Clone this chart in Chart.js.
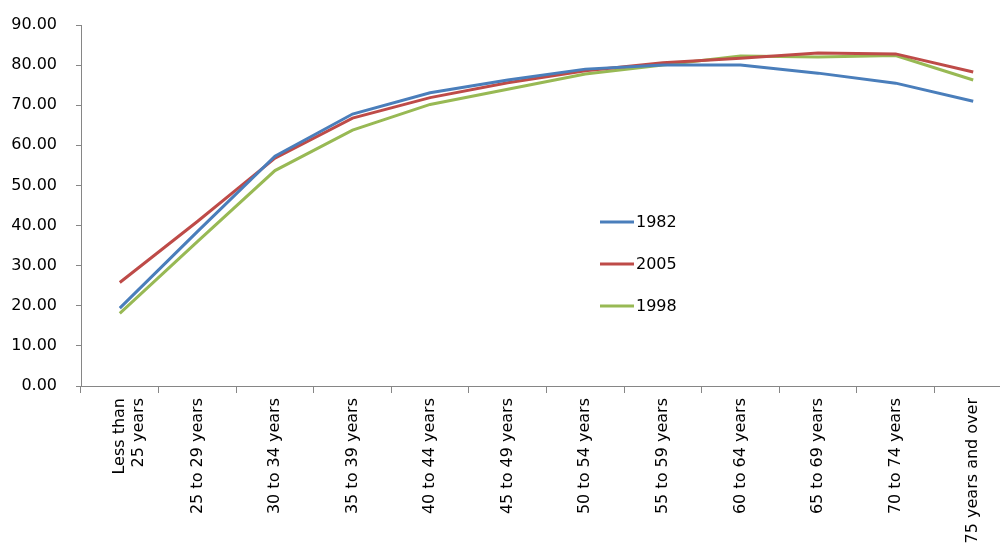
<!DOCTYPE html>
<html>
<head>
<meta charset="utf-8">
<script src="https://cdn.jsdelivr.net/npm/chart.js@4/dist/chart.umd.min.js"></script>
<style>
  html, body { margin: 0; padding: 0; background: #fff; overflow: hidden; width: 1000px; height: 547px; }
  #wrap { width: 1012px; height: 547px; }
</style>
</head>
<body>
<div id="wrap"><canvas id="c" width="1012" height="547"></canvas></div>
<script>
const categories = [["Less than", "25 years"], "25 to 29 years", "30 to 34 years", "35 to 39 years",
  "40 to 44 years", "45 to 49 years", "50 to 54 years", "55 to 59 years",
  "60 to 64 years", "65 to 69 years", "70 to 74 years", "75 years and over"];
const series1982 = [19.4, 38.5, 57.3, 67.8, 73.1, 76.3, 79.0, 80.0, 80.0, 78.0, 75.5, 71.0];
const series2005 = [25.8, 41.0, 56.8, 66.8, 71.9, 75.6, 78.6, 80.6, 81.7, 83.0, 82.8, 78.3];
const series1998 = [18.1, 36.0, 53.7, 63.8, 70.2, 74.0, 77.8, 80.0, 82.3, 82.0, 82.4, 76.3];
const yTicks = { min: 0, max: 90, step: 10 };

const colors = { c1982: "#4A7EBB", c2005: "#BE4B48", c1998: "#98B954" };
const fontFamily = "'DejaVu Sans', sans-serif";

const legendPlugin = {
  id: "insideLegend",
  afterDraw(chart) {
    const ctx = chart.ctx;
    const items = chart.data.datasets;
    const x0 = 600, y0 = 222, gap = 42;
    ctx.save();
    ctx.font = "16px " + fontFamily;
    ctx.textBaseline = "middle";
    ctx.textAlign = "left";
    items.forEach((ds, i) => {
      const y = y0 + i * gap;
      ctx.strokeStyle = ds.borderColor;
      ctx.lineWidth = 3;
      ctx.beginPath();
      ctx.moveTo(x0, y);
      ctx.lineTo(x0 + 34, y);
      ctx.stroke();
      ctx.fillStyle = "#000";
      ctx.fillText(ds.label, x0 + 36, y + 1);
    });
    ctx.restore();
  }
};

new Chart(document.getElementById("c"), {
  type: "line",
  data: {
    labels: categories,
    datasets: [
      { label: "1982", data: series1982, borderColor: colors.c1982, backgroundColor: colors.c1982 },
      { label: "2005", data: series2005, borderColor: colors.c2005, backgroundColor: colors.c2005 },
      { label: "1998", data: series1998, borderColor: colors.c1998, backgroundColor: colors.c1998 }
    ]
  },
  options: {
    responsive: false,
    animation: false,
    devicePixelRatio: 1,
    layout: { padding: { top: 25, right: 0, left: 0, bottom: 0 } },
    elements: {
      line: { borderWidth: 3, tension: 0 },
      point: { radius: 0, hoverRadius: 0 }
    },
    plugins: {
      legend: { display: false },
      tooltip: { enabled: false }
    },
    scales: {
      x: {
        offset: true,
        grid: { display: true, offset: true, drawOnChartArea: false, drawTicks: true, tickLength: 7, color: "#868686" },
        border: { display: true, color: "#868686", width: 1 },
        ticks: {
          autoSkip: false, maxRotation: 90, minRotation: 90, padding: 5,
          color: "#000", font: { family: fontFamily, size: 16 }
        },
        afterFit(scale) { scale.height = 161; scale.paddingLeft = 0; scale.paddingRight = 0; }
      },
      y: {
        min: yTicks.min, max: yTicks.max,
        grid: { display: true, drawOnChartArea: false, drawTicks: true, tickLength: 5, color: "#868686" },
        border: { display: true, color: "#868686", width: 1 },
        ticks: {
          stepSize: yTicks.step, padding: 19, color: "#000",
          font: { family: fontFamily, size: 16 },
          callback: v => Number(v).toFixed(2)
        },
        afterFit(scale) { scale.width = 81; scale.paddingTop = 0; scale.paddingBottom = 0; }
      }
    }
  },
  plugins: [legendPlugin]
});
</script>
</body>
</html>
